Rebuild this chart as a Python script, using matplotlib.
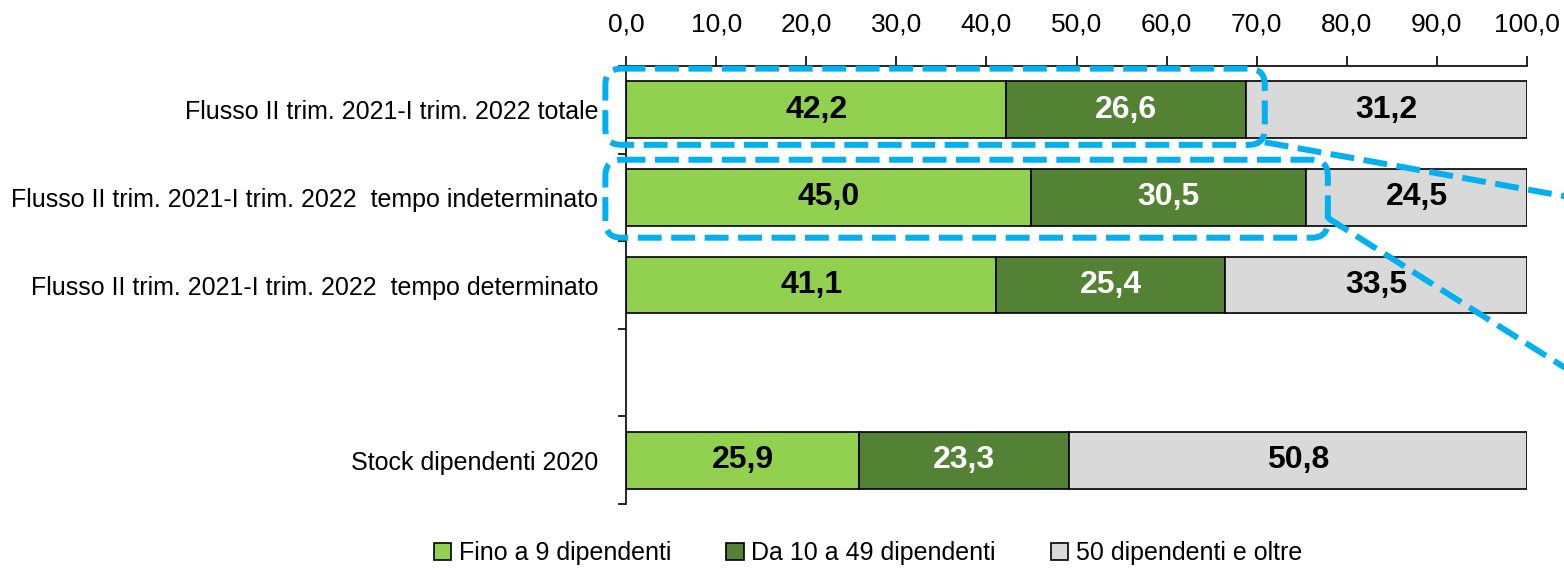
import matplotlib
matplotlib.use("Agg")
import matplotlib.pyplot as plt
import numpy as np
from matplotlib.patches import FancyBboxPatch, Patch

# Dati
categorie = [
    "Flusso II trim. 2021-I trim. 2022 totale",
    "Flusso II trim. 2021-I trim. 2022  tempo indeterminato",
    "Flusso II trim. 2021-I trim. 2022  tempo determinato",
    "",
    "Stock dipendenti 2020",
]
fino_9 = [42.2, 45.0, 41.1, None, 25.9]
da_10_49 = [26.6, 30.5, 25.4, None, 23.3]
oltre_50 = [31.2, 24.5, 33.5, None, 50.8]
serie_nomi = ["Fino a 9 dipendenti", "Da 10 a 49 dipendenti", "50 dipendenti e oltre"]
x_ticks = [0, 10, 20, 30, 40, 50, 60, 70, 80, 90, 100]

# Colori
VERDE_CHIARO = "#92D050"
VERDE_SCURO = "#548235"
GRIGIO = "#D9D9D9"
AZZURRO = "#00B0F0"
colori = [VERDE_CHIARO, VERDE_SCURO, GRIGIO]
colori_testo = ["black", "white", "black"]

plt.rcParams["font.family"] = ["Liberation Sans Narrow", "Liberation Sans", "DejaVu Sans"]

fig = plt.figure(figsize=(15.64, 5.71), dpi=100)
ax = fig.add_axes([0.4003, 0.1173, 0.576, 0.7671])

pos = np.arange(len(categorie))
serie = [fino_9, da_10_49, oltre_50]
sinistra = np.zeros(len(categorie))
for valori, col, col_t in zip(serie, colori, colori_testo):
    for i, v in enumerate(valori):
        if v is None:
            continue
        ax.barh(pos[i], v, left=sinistra[i], height=0.65, color=col,
                edgecolor="black", linewidth=1.2, zorder=2)
        ax.text(sinistra[i] + v / 2, pos[i], f"{v:.1f}".replace(".", ","),
                ha="center", va="center", fontsize=23, fontweight="bold",
                color=col_t, zorder=3)
        sinistra[i] += v

ax.set_xlim(0, 100)
ax.set_ylim(len(categorie) - 0.5, -0.5)

# asse x in alto
ax.xaxis.tick_top()
ax.set_xticks(x_ticks)
ax.set_xticklabels([f"{t:.1f}".replace(".", ",") for t in x_ticks], fontsize=19)
ax.tick_params(axis="x", direction="out", length=7, width=1.2, pad=14)

# asse y: etichette al centro, tacche ai bordi
ax.set_yticks(pos)
ax.set_yticklabels(categorie, fontsize=18)
ax.set_yticks(np.arange(-0.5, len(categorie)), minor=True)
ax.tick_params(axis="y", which="major", length=0, pad=20)
ax.tick_params(axis="y", which="minor", direction="out", length=6, width=1.2)

for s in ["right", "bottom"]:
    ax.spines[s].set_visible(False)
for s in ["top", "left"]:
    ax.spines[s].set_linewidth(1.2)

# riquadri tratteggiati
stile_tratto = (0, (4, 1.6))
asp = (0.576 * 1564 / 100) / (0.7671 * 571 / 5)
for x0, x1, y0, y1 in [(-2.3, 70.9, -0.47, 0.40), (-2.3, 77.9, 0.57, 1.46)]:
    box = FancyBboxPatch((x0, y0), x1 - x0, y1 - y0,
                         boxstyle="round,pad=0,rounding_size=1.8",
                         mutation_aspect=asp, fill=False, edgecolor=AZZURRO,
                         linewidth=4.3, linestyle=stile_tratto,
                         clip_on=False, zorder=4)
    ax.add_patch(box)

ax.plot([70.9, 106], [0.37, 1.02], color=AZZURRO, linewidth=4.3,
        linestyle=stile_tratto, clip_on=False, zorder=4, solid_capstyle="butt")
ax.plot([77.9, 106], [1.235, 3.06], color=AZZURRO, linewidth=4.3,
        linestyle=stile_tratto, clip_on=False, zorder=4, solid_capstyle="butt")

# legenda
maniglie = [Patch(facecolor=c, edgecolor="black", linewidth=1.2) for c in colori]
fig.legend(maniglie, serie_nomi, loc="center", bbox_to_anchor=(0.555, 0.031),
           ncol=3, frameon=False, fontsize=18, handlelength=0.7,
           handleheight=0.7, handletextpad=0.3, columnspacing=2.2)

fig.savefig("out.png", dpi=100)
